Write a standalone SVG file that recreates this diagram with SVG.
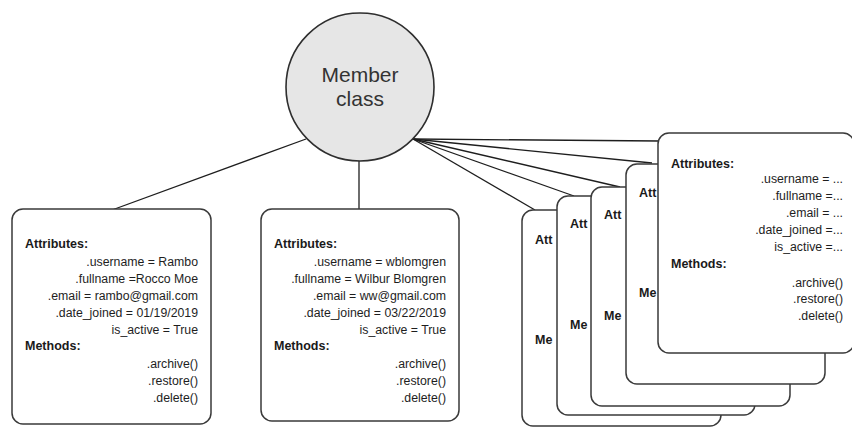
<svg xmlns="http://www.w3.org/2000/svg" width="852" height="427" viewBox="0 0 852 427">
<style>
.card{fill:#ffffff;stroke:#3a3a3a;stroke-width:1.5}
.conn{stroke:#1e1e1e;stroke-width:1.3;fill:none}
.h{font-family:"Liberation Sans",Arial,sans-serif;font-weight:bold;font-size:12.5px;fill:#1a1a1a}
.v{font-family:"Liberation Sans",Arial,sans-serif;font-size:12.3px;fill:#1e1e1e;text-anchor:end}
.c{font-family:"Liberation Sans",Arial,sans-serif;font-size:21px;fill:#333333;text-anchor:middle}
</style>
<rect width="852" height="427" fill="#ffffff"/>
<g id="connectors">
<line class="conn" x1="306" y1="139" x2="112" y2="210"/>
<line class="conn" x1="359" y1="160" x2="359" y2="210"/>
<line class="conn" x1="413" y1="139" x2="535" y2="210"/>
<line class="conn" x1="413" y1="139" x2="574" y2="196"/>
<line class="conn" x1="413" y1="139" x2="620" y2="187"/>
<line class="conn" x1="413" y1="139" x2="652" y2="163"/>
<line class="conn" x1="413" y1="139" x2="659" y2="141"/>
</g>
<g id="member-class">
<circle cx="360" cy="87" r="74" fill="#e6e6e6" stroke="#2e2e2e" stroke-width="1.6"/>
<text class="c" x="360" y="82">Member</text>
<text class="c" x="360" y="106">class</text>
</g>
<g id="object-rambo">
<rect class="card" x="12" y="209" width="199" height="215" rx="11"/>
<text class="h" x="25" y="248">Attributes:</text>
<text class="v" x="198" y="266">.username = Rambo</text>
<text class="v" x="198" y="283">.fullname =Rocco Moe</text>
<text class="v" x="198" y="300">.email = rambo@gmail.com</text>
<text class="v" x="198" y="317">.date_joined = 01/19/2019</text>
<text class="v" x="198" y="334">is_active = True</text>
<text class="h" x="25" y="350">Methods:</text>
<text class="v" x="198" y="368">.archive()</text>
<text class="v" x="198" y="385">.restore()</text>
<text class="v" x="198" y="402">.delete()</text>
</g>
<g id="object-wblomgren">
<rect class="card" x="261" y="209" width="198" height="212" rx="11"/>
<text class="h" x="274" y="248">Attributes:</text>
<text class="v" x="446" y="266">.username = wblomgren</text>
<text class="v" x="446" y="283">.fullname = Wilbur Blomgren</text>
<text class="v" x="446" y="300">.email = ww@gmail.com</text>
<text class="v" x="446" y="317">.date_joined = 03/22/2019</text>
<text class="v" x="446" y="334">is_active = True</text>
<text class="h" x="274" y="350">Methods:</text>
<text class="v" x="446" y="368">.archive()</text>
<text class="v" x="446" y="385">.restore()</text>
<text class="v" x="446" y="402">.delete()</text>
</g>
<g id="object-stack-1">
<rect class="card" x="522" y="210" width="199" height="216" rx="11"/>
<text class="h" x="535" y="243.5">Att</text>
<text class="h" x="535" y="343.5">Me</text>
</g>
<g id="object-stack-2">
<rect class="card" x="557" y="196" width="198" height="219" rx="11"/>
<text class="h" x="570" y="227.5">Att</text>
<text class="h" x="570" y="328.5">Me</text>
</g>
<g id="object-stack-3">
<rect class="card" x="591" y="187" width="199" height="219" rx="11"/>
<text class="h" x="604" y="218.5">Att</text>
<text class="h" x="604" y="319.5">Me</text>
</g>
<g id="object-stack-4">
<rect class="card" x="626" y="164" width="199" height="220" rx="11"/>
<text class="h" x="639" y="196.5">Att</text>
<text class="h" x="639" y="296.5">Me</text>
</g>
<g id="object-stack-5">
<rect class="card" x="658" y="133" width="196" height="220" rx="11"/>
<text class="h" x="671" y="167.5">Attributes:</text>
<text class="v" x="843" y="182.5">.username = ...</text>
<text class="v" x="843" y="199.5">.fullname =...</text>
<text class="v" x="843" y="217">.email = ...</text>
<text class="v" x="843" y="233.5">.date_joined =...</text>
<text class="v" x="843" y="250.5">is_active =...</text>
<text class="h" x="671" y="267.5">Methods:</text>
<text class="v" x="843" y="286.5">.archive()</text>
<text class="v" x="843" y="302.5">.restore()</text>
<text class="v" x="843" y="320">.delete()</text>
</g>
</svg>
